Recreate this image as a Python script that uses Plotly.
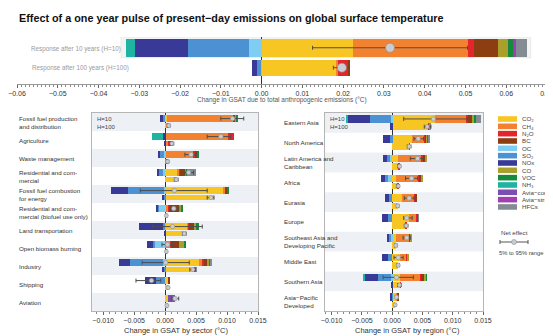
import plotly.graph_objects as go

W, H = 553, 336
OFF = 8  # page body margin offset compensation
def fx(p): return (p - OFF) / W
def fy(p): return 1 - (p - OFF) / H

# ---------------- data ----------------
species = ["CO2", "CH4", "N2O", "BC", "OC", "SO2", "NOx", "CO", "VOC", "NH3", "Avia-contrail", "Avia-strat", "HFCs"]
species_labels = ["CO₂", "CH₄", "N₂O", "BC", "OC", "SO₂", "NOx", "CO", "VOC", "NH₃", "Avia−contrail", "Avia−strat H₂O", "HFCs"]
colors = ["#f7c623", "#f28130", "#e2262c", "#8c3d12", "#7fcdf2", "#4c92d3", "#393a97", "#ab9f2b", "#168a3c", "#1fb3a2", "#7a4fb2", "#a13fb0", "#838c93"]

# Top panel (total), order follows `species`
total_h10 = [0.0225, 0.028, 0.0017, 0.0058, -0.003, -0.015, -0.013, 0.0025, 0.0013, -0.0023, 0.0003, 0.0004, 0.0025]
total_h100 = [0.0183, 0.0004, 0.0024, 0.0006, -0.0001, -0.0011, -0.0012, 0.0, 0.0, 0.0, 0.0, 0.0, 0.0]
total_net = [0.0315, 0.0197]
total_lo = [0.0125, 0.0176]
total_hi = [0.0505, 0.0215]
total_rows = ["Response after 10 years (H=10)", "Response after 100 years (H=100)"]

sectors = ["Fossil fuel production<br>and distribution", "Agriculture", "Waste management",
           "Residential and com-<br>mercial", "Fossil fuel combustion<br>for energy",
           "Residential and com-<br>mercial (biofuel use only)", "Land transportation",
           "Open biomass burning", "Industry", "Shipping", "Aviation"]
# sector values, H=10 (one list per species, one value per sector)
sec10_CO2 = [0.0003, 0.0, 0.0, 0.0020, 0.0095, 0.0002, 0.0036, 0.0, 0.0056, 0.0006, 0.0005]
sec10_CH4 = [0.0108, 0.0102, 0.0046, 0.0003, 0.0002, 0.0004, 0.0001, 0.0009, 0.0003, 0.0, 0.0]
sec10_N2O = [0.0, 0.0009, 0.0002, 0.0001, 0.0001, 0.0001, 0.0001, 0.0001, 0.0004, 0.0, 0.0]
sec10_BC = [0.0002, 0.0, 0.0004, 0.0009, 0.0002, 0.0016, 0.0010, 0.0013, 0.0006, 0.0001, 0.0]
sec10_OC = [0.0, 0.0, -0.0002, -0.0004, -0.0002, -0.0010, -0.0001, -0.0017, -0.0003, 0.0, 0.0]
sec10_SO2 = [-0.0004, 0.0, -0.0006, -0.0006, -0.0058, -0.0002, -0.0003, -0.0003, -0.0054, -0.0015, 0.0]
sec10_NOx = [-0.0005, -0.0003, -0.0004, -0.0003, -0.0027, -0.0003, -0.0038, -0.0010, -0.0018, -0.0017, 0.0]
sec10_CO = [0.0002, 0.0, 0.0, 0.0002, 0.0001, 0.0003, 0.0003, 0.0008, 0.0002, 0.0, 0.0]
sec10_VOC = [0.0003, 0.0, 0.0002, 0.0001, 0.0001, 0.0003, 0.0003, 0.0003, 0.0002, 0.0, 0.0]
sec10_NH3 = [0.0, -0.0018, 0.0, 0.0, 0.0, 0.0, 0.0, 0.0, 0.0, 0.0, 0.0]
sec10_contrail = [0.0, 0.0, 0.0, 0.0, 0.0, 0.0, 0.0, 0.0, 0.0, 0.0, 0.0009]
sec10_strat = [0.0, 0.0, 0.0, 0.0, 0.0, 0.0, 0.0, 0.0, 0.0, 0.0, 0.0001]
sec10_HFCs = [0.0, 0.0, 0.0, 0.0014, 0.0, 0.0, 0.0, 0.0, 0.0002, 0.0, 0.0]
sec10_net = [0.0109, 0.0090, 0.0042, 0.0038, 0.0015, 0.0014, 0.0012, 0.0004, 0.0001, -0.0022, 0.0016]
sec10_lo = [0.0090, 0.0068, 0.0032, 0.0032, -0.0040, 0.0008, -0.0020, -0.0005, -0.0037, -0.0047, 0.0010]
sec10_hi = [0.0127, 0.0106, 0.0050, 0.0046, 0.0068, 0.0022, 0.0060, 0.0012, 0.0039, -0.0007, 0.0022]
# sector values, H=100
sec100_CO2 = [0.0002, 0.0, 0.0, 0.0016, 0.0079, 0.0002, 0.0033, 0.0, 0.0047, 0.0005, 0.0003]
sec100_CH4 = [0.0004, 0.0004, 0.0002, 0.0, 0.0, 0.0, 0.0, 0.0001, 0.0, 0.0, 0.0]
sec100_N2O = [0.0, 0.0008, 0.0002, 0.0001, 0.0, 0.0, 0.0, 0.0001, 0.0002, 0.0, 0.0]
sec100_SO2 = [0.0, 0.0, 0.0, 0.0, -0.0003, 0.0, 0.0, 0.0, -0.0003, 0.0, 0.0]
sec100_NOx = [0.0, -0.0001, 0.0, 0.0, -0.0002, 0.0, -0.0002, 0.0, -0.0002, 0.0, 0.0]
sec100_HFCs = [0.0, 0.0, 0.0, 0.0001, 0.0, 0.0, 0.0, 0.0, 0.0001, 0.0, 0.0]
sec100_net = [0.0006, 0.0011, 0.0004, 0.0018, 0.0074, 0.0002, 0.0031, 0.0002, 0.0045, 0.0005, 0.0003]
sec100_lo = [0.0004, 0.0008, 0.0002, 0.0015, 0.0068, 0.0001, 0.0028, 0.0001, 0.0040, 0.0004, 0.0002]
sec100_hi = [0.0008, 0.0014, 0.0006, 0.0021, 0.0079, 0.0003, 0.0034, 0.0003, 0.0049, 0.0006, 0.0004]

regions = ["Eastern Asia", "North America", "Latin America and<br>Caribbean", "Africa", "Eurasia", "Europe",
           "Southeast Asia and<br>Developing Pacific", "Middle East", "Southern Asia", "Asia−Pacific<br>Developed"]
reg10_CO2 = [0.0071, 0.0032, 0.0010, 0.0007, 0.0016, 0.0027, 0.0007, 0.0013, 0.0013, 0.0007]
reg10_CH4 = [0.0052, 0.0021, 0.0039, 0.0036, 0.0021, 0.0013, 0.0021, 0.0011, 0.0033, 0.0002]
reg10_N2O = [0.0003, 0.0002, 0.0002, 0.0002, 0.0001, 0.0002, 0.0001, 0.0001, 0.0002, 0.0]
reg10_BC = [0.0006, 0.0002, 0.0004, 0.0003, 0.0002, 0.0001, 0.0002, 0.0001, 0.0006, 0.0001]
reg10_OC = [-0.0002, 0.0, -0.0004, -0.0007, 0.0, 0.0, -0.0002, 0.0, -0.0002, 0.0]
reg10_SO2 = [-0.0035, -0.0003, -0.0004, -0.0005, -0.0005, -0.0007, -0.0004, -0.0007, -0.0021, -0.0001]
reg10_NOx = [-0.0037, -0.0013, -0.0007, -0.0006, -0.0007, -0.0010, -0.0002, -0.0010, -0.0022, -0.0002]
reg10_CO = [0.0004, 0.0002, 0.0002, 0.0002, 0.0, 0.0, 0.0001, 0.0001, 0.0002, 0.0]
reg10_VOC = [0.0003, 0.0001, 0.0, 0.0, 0.0, 0.0, 0.0, 0.0, 0.0001, 0.0]
reg10_NH3 = [-0.0003, 0.0, 0.0, 0.0, 0.0, 0.0, 0.0, 0.0, -0.0003, 0.0]
reg10_HFCs = [0.0008, 0.0002, 0.0, 0.0, 0.0, 0.0001, 0.0, 0.0, 0.0, 0.0]
reg10_net = [0.0068, 0.0043, 0.0042, 0.0032, 0.0028, 0.0024, 0.0024, 0.0010, 0.0007, 0.0007]
reg10_lo = [0.0019, 0.0036, 0.0030, 0.0022, 0.0020, 0.0019, 0.0018, 0.0003, -0.0015, 0.0005]
reg10_hi = [0.0124, 0.0052, 0.0052, 0.0042, 0.0036, 0.0033, 0.0030, 0.0018, 0.0035, 0.0010]
reg100_CO2 = [0.0060, 0.0028, 0.0010, 0.0009, 0.0009, 0.0022, 0.0006, 0.0010, 0.0013, 0.0005]
reg100_N2O = [0.0002, 0.0001, 0.0002, 0.0001, 0.0, 0.0001, 0.0, 0.0, 0.0001, 0.0]
reg100_NOx = [-0.0003, 0.0, 0.0, 0.0, 0.0, 0.0, 0.0, 0.0, -0.0002, 0.0]
reg100_HFCs = [0.0001, 0.0, 0.0, 0.0, 0.0, 0.0, 0.0, 0.0, 0.0, 0.0]
reg100_net = [0.0058, 0.0028, 0.0012, 0.0010, 0.0009, 0.0023, 0.0006, 0.0010, 0.0012, 0.0005]
reg100_lo = [0.0053, 0.0025, 0.0009, 0.0007, 0.0007, 0.0020, 0.0004, 0.0008, 0.0009, 0.0004]
reg100_hi = [0.0064, 0.0031, 0.0014, 0.0012, 0.0011, 0.0026, 0.0008, 0.0012, 0.0015, 0.0006]

top_ticks = [-0.06, -0.05, -0.04, -0.03, -0.02, -0.01, 0.0, 0.01, 0.02, 0.03, 0.04, 0.05, 0.06, 0.07]
panel_ticks = [-0.010, -0.005, 0.0, 0.005, 0.010, 0.015]

# ---------------- assemble ----------------
n_sec, n_reg = len(sectors), len(regions)
zeros_s = [0.0] * n_sec
zeros_r = [0.0] * n_reg
sec10 = {"CO2": sec10_CO2, "CH4": sec10_CH4, "N2O": sec10_N2O, "BC": sec10_BC, "OC": sec10_OC,
         "SO2": sec10_SO2, "NOx": sec10_NOx, "CO": sec10_CO, "VOC": sec10_VOC, "NH3": sec10_NH3,
         "Avia-contrail": sec10_contrail, "Avia-strat": sec10_strat, "HFCs": sec10_HFCs}
sec100 = {"CO2": sec100_CO2, "CH4": sec100_CH4, "N2O": sec100_N2O, "SO2": sec100_SO2,
          "NOx": sec100_NOx, "HFCs": sec100_HFCs}
reg10 = {"CO2": reg10_CO2, "CH4": reg10_CH4, "N2O": reg10_N2O, "BC": reg10_BC, "OC": reg10_OC,
         "SO2": reg10_SO2, "NOx": reg10_NOx, "CO": reg10_CO, "VOC": reg10_VOC, "NH3": reg10_NH3,
         "HFCs": reg10_HFCs}
reg100 = {"CO2": reg100_CO2, "N2O": reg100_N2O, "NOx": reg100_NOx, "HFCs": reg100_HFCs}

fig = go.Figure()

# top panel
for i, sp in enumerate(species):
    fig.add_trace(go.Bar(
        x=[total_h10[i], total_h100[i]], y=[0, 1], width=[0.88, 0.8], orientation="h",
        marker=dict(color=colors[i], line=dict(width=0)), xaxis="x", yaxis="y",
        showlegend=False, name=sp))

def add_panel(d10, d100, zeros, n, xa, ya, w10, o10, w100, o100):
    pos10 = [k + o10 for k in range(n)]
    pos100 = [k + o100 for k in range(n)]
    for i, sp in enumerate(species):
        v10 = d10.get(sp, zeros)
        v100 = d100.get(sp, zeros)
        fig.add_trace(go.Bar(
            x=v10 + v100, y=pos10 + pos100, width=[w10] * n + [w100] * n, orientation="h",
            marker=dict(color=colors[i], line=dict(width=0)), xaxis=xa, yaxis=ya,
            showlegend=False, name=sp))
    return pos10, pos100

p10s, p100s = add_panel(sec10, sec100, zeros_s, n_sec, "x2", "y2", 0.4, -0.19, 0.3, 0.2)
p10r, p100r = add_panel(reg10, reg100, zeros_r, n_reg, "x3", "y3", 0.38, -0.2, 0.34, 0.19)

def add_net(net, lo, hi, pos, xa, ya, size):
    fig.add_trace(go.Scatter(
        x=net, y=pos, mode="markers", xaxis=xa, yaxis=ya, showlegend=False, name="Net effect",
        marker=dict(size=size, color="#c9cdd1", line=dict(width=0.6, color="#8a8f94")),
        error_x=dict(type="data", symmetric=False,
                     array=[h - m for h, m in zip(hi, net)],
                     arrayminus=[m - l for m, l in zip(net, lo)],
                     color="#4d4d4d", thickness=1, width=2)))

add_net(total_net, total_lo, total_hi, [0, 1], "x", "y", 9)
add_net(sec10_net, sec10_lo, sec10_hi, p10s, "x2", "y2", 4.5)
add_net(sec100_net, sec100_lo, sec100_hi, p100s, "x2", "y2", 4)
add_net(reg10_net, reg10_lo, reg10_hi, p10r, "x3", "y3", 4.5)
add_net(reg100_net, reg100_lo, reg100_hi, p100r, "x3", "y3", 4)

FONT = "Liberation Sans, Arial, sans-serif"
tickfont = dict(family=FONT, size=7, color="#333")
common_x = dict(showgrid=False, zeroline=True, zerolinecolor="#333", zerolinewidth=1, automargin=False,
                ticks="outside", ticklen=3, tickcolor="#666", tickfont=tickfont,
                minor=dict(ticks="outside", ticklen=1.5, tickcolor="#888", dtick=0.001))
common_y = dict(showticklabels=False, showgrid=False, zeroline=False, ticks="", automargin=False)

shapes = []
annotations = []

# stripes
for k in range(0, n_sec, 2):
    shapes.append(dict(type="rect", xref="x2 domain", yref="y2", x0=0, x1=1, y0=k - 0.5, y1=k + 0.5,
                       fillcolor="#edf1f6", line=dict(width=0), layer="below"))
for k in range(0, n_reg, 2):
    shapes.append(dict(type="rect", xref="x3 domain", yref="y3", x0=0, x1=1, y0=k - 0.5, y1=k + 0.5,
                       fillcolor="#edf1f6", line=dict(width=0), layer="below"))
# faint background behind the H=10 top bar
shapes.append(dict(type="rect", xref="x", yref="y", x0=-0.0345, x1=0.066, y0=-0.55, y1=0.5,
                   fillcolor="#f3f3f3", line=dict(width=0.6, color="#e0e0e0"), layer="below"))

# title
annotations.append(dict(text="<b>Effect of a one year pulse of present−day emissions on global surface temperature</b>",
                        x=fx(17), y=fy(18), xref="paper", yref="paper", xanchor="left", yanchor="middle",
                        showarrow=False, font=dict(family=FONT, size=10.8, color="#111")))
# top row labels
annotations.append(dict(text=total_rows[0], x=fx(123), y=fy(48.5), xref="paper", yref="paper",
                        xanchor="right", yanchor="middle", showarrow=False,
                        font=dict(family=FONT, size=6.3, color="#9a9a9a")))
annotations.append(dict(text=total_rows[1], x=fx(131), y=fy(68), xref="paper", yref="paper",
                        xanchor="right", yanchor="middle", showarrow=False,
                        font=dict(family=FONT, size=6.3, color="#9a9a9a")))
# axis titles
annotations.append(dict(text="Change in GSAT due to total anthropogenic emissions (°C)", x=fx(282), y=fy(100),
                        xref="paper", yref="paper", xanchor="center", yanchor="middle", showarrow=False,
                        font=dict(family=FONT, size=6.5, color="#555")))
annotations.append(dict(text="Change in GSAT by sector (°C)", x=fx(176), y=fy(330),
                        xref="paper", yref="paper", xanchor="center", yanchor="middle", showarrow=False,
                        font=dict(family=FONT, size=7.5, color="#333")))
annotations.append(dict(text="Change in GSAT by region (°C)", x=fx(407), y=fy(330),
                        xref="paper", yref="paper", xanchor="center", yanchor="middle", showarrow=False,
                        font=dict(family=FONT, size=7.5, color="#333")))
# row labels
for k, s in enumerate(sectors):
    annotations.append(dict(text=s, x=fx(17), y=k, xref="paper", yref="y2", xanchor="left", yanchor="middle",
                            align="left", showarrow=False, font=dict(family=FONT, size=6.2, color="#333")))
for k, s in enumerate(regions):
    annotations.append(dict(text=s, x=fx(282), y=k, xref="paper", yref="y3", xanchor="left", yanchor="middle",
                            align="left", showarrow=False, font=dict(family=FONT, size=6.2, color="#333")))
# H labels inside panels
for xp in (95, 328):
    annotations.append(dict(text="H=10<br>H=100", x=fx(xp), y=fy(114), xref="paper", yref="paper",
                            xanchor="left", yanchor="top", align="left", showarrow=False,
                            font=dict(family=FONT, size=6, color="#444")))
# custom legend
y0, dy = 119, 7.33
for i, lab in enumerate(species_labels):
    yc = y0 + dy * i
    shapes.append(dict(type="rect", xref="paper", yref="paper", x0=fx(498), x1=fx(517),
                       y0=fy(yc + 2.8), y1=fy(yc - 2.8), fillcolor=colors[i], line=dict(width=0)))
    annotations.append(dict(text=lab, x=fx(520), y=fy(yc), xref="paper", yref="paper", xanchor="left",
                            yanchor="middle", showarrow=False, font=dict(family=FONT, size=6.2, color="#444")))
annotations.append(dict(text="Net effect", x=fx(499), y=fy(233), xref="paper", yref="paper", xanchor="left",
                        yanchor="middle", showarrow=False, font=dict(family=FONT, size=6.2, color="#444")))
annotations.append(dict(text="5% to 95% range", x=fx(497), y=fy(253), xref="paper", yref="paper", xanchor="left",
                        yanchor="middle", showarrow=False, font=dict(family=FONT, size=5.8, color="#444")))
shapes.append(dict(type="line", xref="paper", yref="paper", x0=fx(500), x1=fx(528), y0=fy(242), y1=fy(242),
                   line=dict(color="#555", width=1)))
for xc in (500, 528):
    shapes.append(dict(type="line", xref="paper", yref="paper", x0=fx(xc), x1=fx(xc), y0=fy(240), y1=fy(244),
                       line=dict(color="#555", width=1)))
shapes.append(dict(type="circle", xref="paper", yref="paper", x0=fx(511.5), x1=fx(516.5), y0=fy(244.5), y1=fy(239.5),
                   fillcolor="#c9cdd1", line=dict(color="#8a8f94", width=0.6)))

fig.update_layout(
    width=W, height=H, margin=dict(l=0, r=0, t=0, b=0, autoexpand=False),
    paper_bgcolor="white", plot_bgcolor="rgba(0,0,0,0)",
    barmode="relative", bargap=0, showlegend=False,
    xaxis=dict(domain=[fx(17), fx(547)], range=[-0.06, 0.07], anchor="y",
               tickvals=top_ticks, tickformat=".2f", showline=True, linecolor="#999", **common_x),
    yaxis=dict(domain=[fy(84), fy(37)], range=[1.82, -0.54], anchor="x", **common_y),
    xaxis2=dict(domain=[fx(92), fx(258)], range=[-0.0118, 0.015], anchor="y2",
                tickvals=panel_ticks, tickformat=".3f", showline=True, mirror=True, linecolor="#b5b5b5", **common_x),
    yaxis2=dict(domain=[fy(311), fy(113)], range=[10.5, -0.5], anchor="x2",
                showline=True, mirror=True, linecolor="#b5b5b5", **common_y),
    xaxis3=dict(domain=[fx(325), fx(483)], range=[-0.0111, 0.015], anchor="y3",
                tickvals=panel_ticks, tickformat=".3f", showline=True, mirror=True, linecolor="#b5b5b5", **common_x),
    yaxis3=dict(domain=[fy(311), fy(113)], range=[9.5, -0.5], anchor="x3",
                showline=True, mirror=True, linecolor="#b5b5b5", **common_y),
    shapes=shapes, annotations=annotations,
)

fig.write_html("out.html")
